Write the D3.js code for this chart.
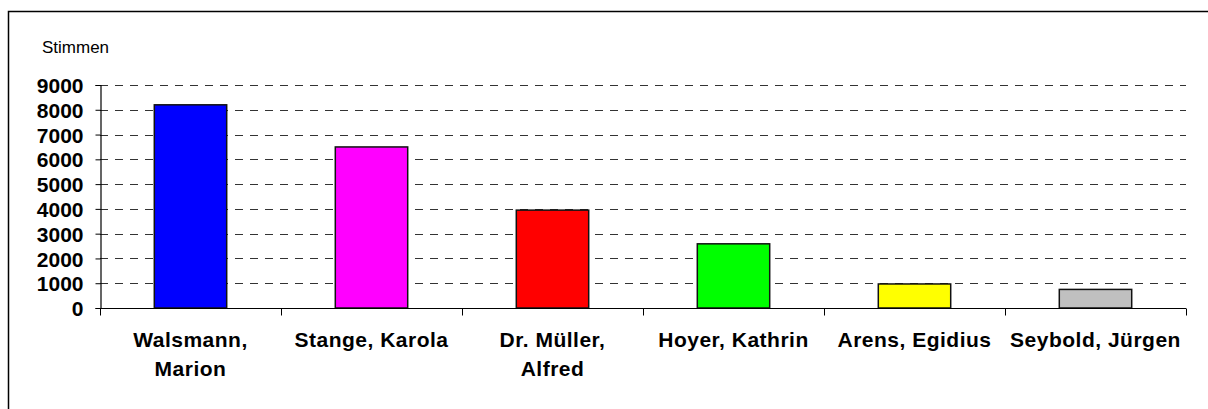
<!DOCTYPE html>
<html>
<head>
<meta charset="utf-8">
<script src="https://cdn.jsdelivr.net/npm/d3@7"></script>
<style>
  html, body { margin: 0; background: #fff; overflow: hidden; }
  svg { display: block; }
  text { font-family: Arial, "Liberation Sans", sans-serif; fill: #000; }
</style>
</head>
<body>
<svg id="chart" width="1208" height="409"></svg>
<script>
// Stimmen pro Kandidat
const candidates = ["Walsmann, Marion", "Stange, Karola", "Dr. Müller, Alfred", "Hoyer, Kathrin", "Arens, Egidius", "Seybold, Jürgen"];
const labelLines = [["Walsmann,", "Marion"], ["Stange, Karola"], ["Dr. Müller,", "Alfred"], ["Hoyer, Kathrin"], ["Arens, Egidius"], ["Seybold, Jürgen"]];
const votes = [8200, 6500, 3950, 2590, 970, 750];
const barColors = ["#0000ff", "#ff00ff", "#ff0000", "#00ff00", "#ffff00", "#c0c0c0"];
const yTicks = [0, 1000, 2000, 3000, 4000, 5000, 6000, 7000, 8000, 9000];
const yTitle = "Stimmen";

const svg = d3.select("#chart");

// outer frame: only the top and left edge fall inside the picture
svg.append("path")
    .attr("d", "M8.5,409 V11.5 H1208")
    .attr("fill", "none")
    .attr("stroke", "#000")
    .attr("stroke-width", 1.5);

const x = d3.scaleBand()
    .domain(candidates)
    .range([100, 1186])
    .paddingInner(0.6)
    .paddingOuter(0.3);

const y = d3.scaleLinear()
    .domain([0, 9000])
    .range([308, 85]);

// dashed grid lines
svg.append("g")
    .selectAll("line")
    .data(yTicks.filter(d => d > 0))
    .join("line")
    .attr("x1", 100)
    .attr("x2", 1186)
    .attr("y1", d => Math.round(y(d)) + 0.5)
    .attr("y2", d => Math.round(y(d)) + 0.5)
    .attr("stroke", "#333")
    .attr("stroke-width", 1)
    .attr("stroke-dasharray", "8,7");

// bars
svg.append("g")
    .selectAll("rect")
    .data(votes)
    .join("rect")
    .attr("x", (d, i) => x(candidates[i]))
    .attr("y", d => y(d))
    .attr("width", x.bandwidth())
    .attr("height", d => y(0) - y(d))
    .attr("fill", (d, i) => barColors[i])
    .attr("stroke", "#111")
    .attr("stroke-width", 1.5);

// y axis
const yAxis = svg.append("g")
    .attr("transform", "translate(100.5,0)")
    .call(d3.axisLeft(y).tickValues(yTicks).tickSize(5).tickPadding(12).tickFormat(d3.format("d")));
yAxis.select(".domain").attr("stroke", "#000").attr("stroke-width", 1.2);
yAxis.selectAll(".tick line").attr("stroke", "#000");
yAxis.selectAll(".tick text")
    .style("font-family", "Arial, 'Liberation Sans', sans-serif")
    .style("font-size", "21px")
    .style("font-weight", "bold")
    .attr("dy", "0.36em");

// x axis: ticks at band boundaries
const xAxis = svg.append("g").attr("transform", "translate(0," + (y(0) + 0.5) + ")");
xAxis.append("line")
    .attr("x1", 100).attr("x2", 1186)
    .attr("stroke", "#000").attr("stroke-width", 1.2);
const step = x.step();
xAxis.selectAll(".xtick")
    .data(d3.range(candidates.length + 1))
    .join("line")
    .attr("class", "xtick")
    .attr("x1", i => Math.round(100 + i * step) + 0.5)
    .attr("x2", i => Math.round(100 + i * step) + 0.5)
    .attr("y1", 0).attr("y2", 7)
    .attr("stroke", "#000");

// category labels
const lbl = svg.append("g")
    .selectAll("text")
    .data(labelLines)
    .join("text")
    .attr("text-anchor", "middle")
    .style("font-size", "21px")
    .style("font-weight", "bold")
    .style("letter-spacing", "0.5px");
lbl.each(function (lines, i) {
    const cx = x(candidates[i]) + x.bandwidth() / 2;
    d3.select(this).selectAll("tspan")
        .data(lines)
        .join("tspan")
        .attr("x", cx)
        .attr("y", (d, k) => 347 + k * 29)
        .text(d => d);
});

// axis title
svg.append("text")
    .attr("x", 42)
    .attr("y", 53)
    .style("font-size", "17px")
    .text(yTitle);
</script>
</body>
</html>
